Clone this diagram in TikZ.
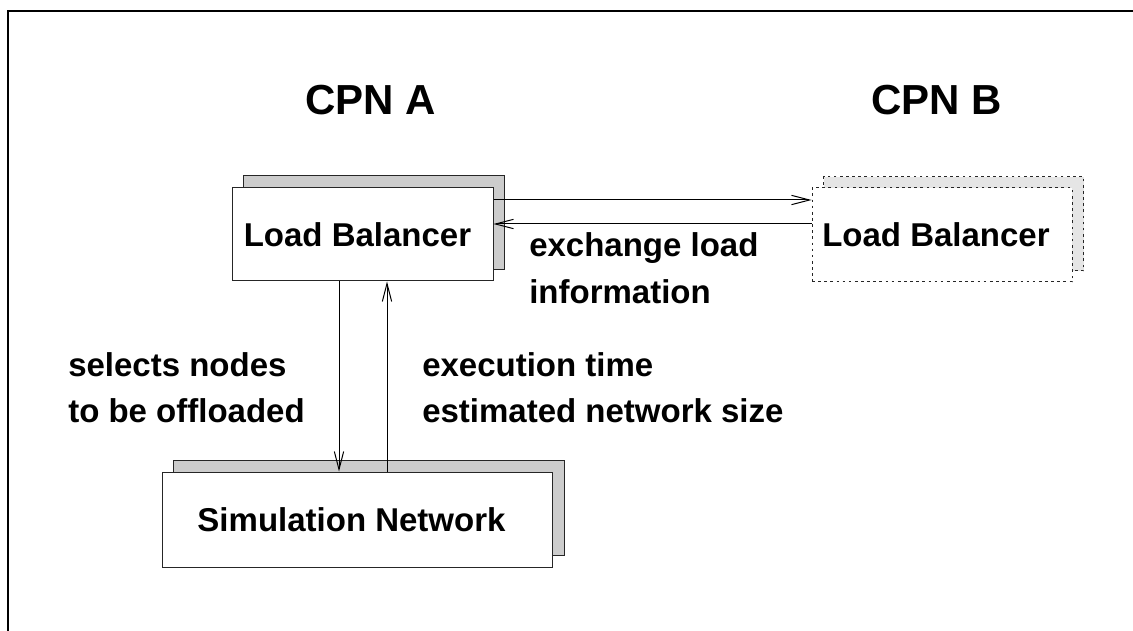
\documentclass[tikz,border=0pt]{standalone}
\usepackage{fontspec}
\setmainfont{Liberation Sans}
\usetikzlibrary{arrows.meta,calc}
\begin{document}
\begin{tikzpicture}[x=0.75pt,y=-0.75pt,
  every node/.style={font=\bfseries},
  frontbox/.style={draw=black!85,line width=0.75pt,fill=white,inner sep=0pt,
    font=\fontsize{24.75}{30}\selectfont\bfseries},
  shadowbox/.style={draw=black!85,line width=0.75pt,fill=black!20,inner sep=0pt},
  remotebox/.style={draw=black!85,line width=0.75pt,fill=white,inner sep=0pt,
    dash pattern=on 2pt off 2.6pt,font=\fontsize{24.75}{30}\selectfont\bfseries},
  remoteshadow/.style={draw=black!85,line width=0.75pt,fill=black!10,inner sep=0pt,
    dash pattern=on 2pt off 2.6pt},
  title/.style={font=\fontsize{31.5}{36}\selectfont\bfseries,anchor=base,inner sep=0pt},
  label/.style={font=\fontsize{24.75}{30}\selectfont\bfseries,anchor=base west,inner sep=0pt},
  msg/.style={line width=0.75pt,-{Straight Barb[length=13.5pt,width=7pt,line width=0.75pt]}}
]
\useasboundingbox (0,0) rectangle (1133,631);
% outer frame, open to the right and bottom
\draw[line width=1pt] (8,631) -- (8,11) -- (1133,11);

% titles
\node[title] (cpnA) at (370.5,115) {CPN A};
\node[title] (cpnB) at (936.5,115) {CPN B};

% stacked boxes: shadow copies behind
\node[shadowbox,minimum width=195.75pt,minimum height=70.5pt] (Ash) at (374,223) {};
\node[remoteshadow,minimum width=195pt,minimum height=70.5pt] (Bsh) at (953.5,224) {};
\node[shadowbox,minimum width=293.25pt,minimum height=71.25pt] (Ssh) at (368.5,507.5) {};

% front boxes (trailing kern sets the text a little left of centre)
\node[frontbox,minimum width=195.75pt,minimum height=69.75pt] (A) at (362.5,234.5) {Load Balancer\kern7.5pt};
\node[remotebox,minimum width=195pt,minimum height=70.5pt] (B) at (942,235) {Load Balancer\kern9pt};
\node[frontbox,minimum width=292.5pt,minimum height=71.25pt] (S) at (357,519.5) {Simulation Network\kern8.25pt};

% line heights and columns of the connectors
\coordinate (rowTop) at (0,200);
\coordinate (rowBot) at (0,224);
\coordinate (colDown) at (339,0);
\coordinate (colUp) at (387,0);

% load exchange between the two balancers
\draw[msg] (A.east |- rowTop) -- (B.west |- rowTop);
\draw[msg] (B.west |- rowBot) -- (A.east |- rowBot);

% balancer <-> simulation network
\draw[msg] (colDown |- A.south) -- (colDown |- S.north);
\draw[msg] (colUp |- S.north) -- (colUp |- A.south);

% labels
\node[label] (ex1) at (529,257) {exchange load};
\node[label] (ex2) at (529,304) {information};
\node[label] (sel1) at (68,377) {selects nodes};
\node[label] (sel2) at (68,422) {to be offloaded};
\node[label] (et1) at (422,377) {execution time};
\node[label] (et2) at (422,422.5) {estimated network size};
\end{tikzpicture}
\end{document}
